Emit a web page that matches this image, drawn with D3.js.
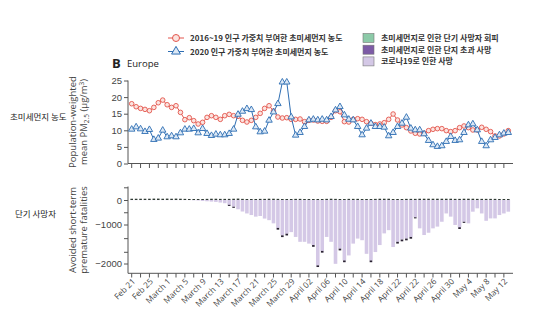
<!DOCTYPE html>
<html><head><meta charset="utf-8">
<script src="https://cdn.jsdelivr.net/npm/d3@7/dist/d3.min.js"></script>
<style>
body{margin:0;background:#fff;}
svg{display:block;font-family:"Open Sans","Noto Sans","Noto Sans CJK KR",sans-serif;}
</style></head><body>
<svg id="c" width="559" height="333"></svg>
<script>
// ---------- data ----------
const tickLabels = ["Feb 21","Feb 25","March 1","March 5","March 9","March 13","March 17","March 21","March 25","March 29","April 02","April 06","April 10","April 14","April 18","April 22","April 22","April 26","April 30","May 4","May 8","May 12"];
const pm2016_19 = [18.0,17.1,16.6,16.3,15.9,16.9,18.3,19.1,17.7,16.9,17.4,15.4,13.2,13.8,12.9,11.9,12.4,13.9,14.4,13.9,13.3,14.4,14.8,14.4,14.2,13.0,12.5,13.0,13.9,15.1,16.6,17.4,15.8,14.0,13.7,13.8,13.3,13.3,13.4,12.6,13.0,
 13.1,12.8,12.7,12.7,13.9,15.9,15.6,12.6,12.5,13.3,13.5,13.3,12.6,12.1,11.7,11.9,12.3,13.3,14.9,13.1,11.6,10.8,9.8,9.1,8.9,9.1,9.9,10.3,10.5,10.5,9.9,9.6,9.9,10.8,11.3,10.8,10.1,10.1,10.9,10.3,9.6,8.3,8.3,8.9,9.9];
const pm2020 = [10.3,11.0,10.4,9.6,10.2,7.2,7.6,10.0,8.0,8.3,8.0,9.2,10.3,10.3,10.5,9.2,10.5,9.0,8.4,8.8,8.6,8.6,9.0,10.3,14.8,15.7,16.5,16.2,11.0,9.5,9.7,13.0,15.5,18.0,24.5,24.5,14.0,8.5,9.3,11.1,13.1,
 13.3,13.1,13.3,13.1,14.1,16.1,17.1,14.6,13.3,13.1,11.1,8.6,10.6,12.1,11.1,11.1,10.9,8.3,9.3,11.1,12.1,13.9,10.6,10.1,10.1,8.9,6.9,5.6,5.1,5.3,6.6,8.1,6.9,7.1,9.3,11.6,11.9,10.1,6.6,5.3,7.1,7.8,8.6,9.1,9.3];
const covidDeaths = [-5,-5,-5,-5,-5,-5,-5,-5,-5,-5,-5,-5,-5,-5,-13,-20,-39,-52,-65,-78,-104,-131,-196,-274,-379,-470,-549,-614,-679,-653,-758,-823,-953,-1087,-1278,-1236,-1195,-1319,-1444,-1444,-1490,
 -1527,-2051,-1677,-1319,-1444,-2009,-1619,-1922,-1793,-1490,-1361,-1403,-1752,-1922,-1706,-1527,-1228,-1145,-1577,-1444,-1386,-1361,-1319,-705,-1099,-1270,-1211,-1099,-1054,-888,-549,-679,-1012,-1070,-888,-953,-477,-340,-549,-849,-751,-751,-614,-549,-477];
const pmAvoided = [50,50,50,50,50,55,55,50,55,50,55,50,45,40,40,40,40,45,50,50,45,45,45,50,55,45,40,40,40,45,45,50,50,45,40,40,40,45,45,40,40,
 40,40,40,45,50,45,40,40,45,45,45,40,40,40,45,50,50,50,40,40,40,45,45,45,50,50,50,50,50,50,50,50,45,45,50,50,50,45,45,45,45,45,40,40,40];
const pmExcess = [0,0,0,0,0,0,0,0,0,0,0,0,0,0,0,0,0,0,0,0,0,0,45,45,0,0,0,0,0,0,0,0,0,45,45,45,0,0,0,0,0,
 45,45,45,0,0,0,45,45,0,0,0,0,0,45,0,0,0,0,0,45,45,45,45,45,0,0,0,0,0,0,0,0,0,45,45,0,0,0,0,0,0,0,0,0,0];
const topTicks = [0,5,10,15,20,25];
const botTicks = [500,0,-500,-1000,-1350,-1700,-2000];
const botLabels = [0,-1000,-2000];

// ---------- layout ----------
const svg = d3.select("#c");
const n = pm2020.length;
const x = d3.scaleLinear().domain([0, n-1]).range([131.7, 508.3]);
const yTop = d3.scaleLinear().domain([0,25]).range([163.5, 80.5]);
const yBot = d3.scaleLinear().domain([-2300,-2000,-1000,0,500]).range([274.5,263.5,224.5,200,187.3]);
const axisColor = "#555", textColor = "#444";
const red = "#e3554c", blue = "#2e6eb3";
const cGreen = "#8ccaa8", cPurple = "#7d5ba6", cCovid = "#d4c8e6";

// ---------- top chart ----------
const gT = svg.append("g");
gT.append("line").attr("x1",128).attr("x2",513).attr("y1",yTop(0)).attr("y2",yTop(0)).attr("stroke",axisColor);
gT.append("line").attr("x1",128).attr("x2",128).attr("y1",yTop(25)).attr("y2",yTop(0)).attr("stroke",axisColor);
const yAxT = d3.axisLeft(yTop).tickValues(topTicks).tickSize(4).tickPadding(2);
gT.append("g").attr("transform","translate(128,0)").call(yAxT)
  .call(g=>g.select(".domain").remove())
  .call(g=>g.selectAll("line").attr("stroke",axisColor))
  .call(g=>g.selectAll("text").attr("fill",textColor).style("font-size","9.5px"));
const idxTicks = d3.range(0, n-1, 2);
gT.selectAll("line.xt").data(idxTicks).join("line")
  .attr("x1",d=>x(d)).attr("x2",d=>x(d)).attr("y1",yTop(0)).attr("y2",yTop(0)+4.5).attr("stroke",axisColor);

const line = d3.line().x((d,i)=>x(i));
gT.append("path").datum(pm2016_19).attr("d", line.y(d=>yTop(d))).attr("fill","none").attr("stroke",red).attr("stroke-width",1);
gT.selectAll("circle.r").data(pm2016_19).join("circle").attr("cx",(d,i)=>x(i)).attr("cy",d=>yTop(d)).attr("r",2.3)
  .attr("fill","#fbe3df").attr("stroke",red).attr("stroke-width",0.9);
gT.append("path").datum(pm2020).attr("d", line.y(d=>yTop(d))).attr("fill","none").attr("stroke",blue).attr("stroke-width",1);
const tri = d3.symbol().type(d3.symbolTriangle).size(18);
gT.selectAll("path.b").data(pm2020).join("path").attr("transform",(d,i)=>`translate(${x(i)},${yTop(d)})`).attr("d",tri)
  .attr("fill","#dce8f5").attr("stroke",blue).attr("stroke-width",0.9);

// ---------- bottom chart ----------
const gB = svg.append("g");
const bw = 3.6;
gB.selectAll("rect.cov").data(covidDeaths).join("rect")
  .attr("x",(d,i)=>x(i)-bw/2).attr("width",bw)
  .attr("y",yBot(0)).attr("height",d=>yBot(d)-yBot(0)).attr("fill",cCovid);
gB.selectAll("rect.av").data(pmAvoided).join("rect")
  .attr("x",(d,i)=>x(i)-1.3).attr("width",2.6)
  .attr("y",d=>yBot(d)).attr("height",d=>yBot(0)-yBot(d)).attr("fill","#2f3a33");
gB.selectAll("rect.ex").data(pmExcess).join("rect")
  .attr("x",(d,i)=>x(i)-1.3).attr("width",2.6)
  .attr("y",(d,i)=>yBot(covidDeaths[i])).attr("height",(d,i)=>d? yBot(covidDeaths[i]-d)-yBot(covidDeaths[i]):0).attr("fill","#2a2233");
gB.append("line").attr("x1",128).attr("x2",128).attr("y1",186.5).attr("y2",273.3).attr("stroke",axisColor);
gB.append("line").attr("x1",128).attr("x2",513).attr("y1",273.3).attr("y2",273.3).attr("stroke",axisColor);
const yAxB = d3.axisLeft(yBot).tickValues(botTicks).tickSize(4).tickPadding(2)
  .tickFormat(d=>botLabels.includes(d)? d3.format("d")(d) : "");
gB.append("g").attr("transform","translate(128,0)").call(yAxB)
  .call(g=>g.select(".domain").remove())
  .call(g=>g.selectAll("line").attr("stroke",axisColor))
  .call(g=>g.selectAll("text").attr("fill",textColor).style("font-size","9.5px"));
gB.selectAll("line.xt").data(idxTicks).join("line")
  .attr("x1",d=>x(d)).attr("x2",d=>x(d)).attr("y1",273.3).attr("y2",277.5).attr("stroke",axisColor);
gB.selectAll("text.xl").data(tickLabels).join("text")
  .attr("transform",(d,i)=>`translate(${x(i*4)+2},280) rotate(-45)`)
  .attr("text-anchor","end").attr("dy","0.35em").attr("fill",textColor).style("font-size","8.2px").text(d=>d);

// ---------- axis titles ----------
svg.append("text").attr("transform","translate(76,122) rotate(-90)").attr("text-anchor","middle").attr("fill",textColor).style("font-size","9.5px").text("Population-weighted");
let t2 = svg.append("text").attr("transform","translate(87,122) rotate(-90)").attr("text-anchor","middle").attr("fill",textColor).style("font-size","9.5px");
t2.append("tspan").text("mean PM");
t2.append("tspan").text("2.5").attr("dy",2).style("font-size","6.5px");
t2.append("tspan").text(" (μg/m").attr("dy",-2);
t2.append("tspan").text("3").attr("dy",-3).style("font-size","6.5px");
t2.append("tspan").text(")").attr("dy",3);
svg.append("text").attr("transform","translate(76,230) rotate(-90)").attr("text-anchor","middle").attr("fill",textColor).style("font-size","9.5px").text("Avoided short-term");
svg.append("text").attr("transform","translate(87,230) rotate(-90)").attr("text-anchor","middle").attr("fill",textColor).style("font-size","9.5px").text("premature fatalities");

// Korean side labels
svg.append("text").attr("x",10).attr("y",120).attr("fill","#222").style("font-size","8.5px").style("font-family","'Noto Sans CJK KR'").text("초미세먼지 농도");
svg.append("text").attr("x",15).attr("y",217).attr("fill","#222").style("font-size","8.5px").style("font-family","'Noto Sans CJK KR'").text("단기 사망자");

// Panel title
svg.append("text").attr("x",112).attr("y",68).attr("fill","#222").style("font-size","13px").style("font-weight","bold").text("B");
svg.append("text").attr("x",127).attr("y",67).attr("fill","#222").style("font-size","9.5px").text("Europe");

// ---------- legends ----------
const legL = [{t:"2016~19 인구 가중치 부여한 초미세먼지 농도", c:red, s:"c", fill:"#fbe3df"},{t:"2020 인구 가중치 부여한 초미세먼지 농도", c:blue, s:"t", fill:"#dce8f5"}];
legL.forEach((d,i)=>{
  const yy = 38 + i*13.5;
  svg.append("line").attr("x1",168).attr("x2",184).attr("y1",yy).attr("y2",yy).attr("stroke",d.c);
  if(d.s==="c") svg.append("circle").attr("cx",176).attr("cy",yy).attr("r",3.5).attr("fill",d.fill).attr("stroke",d.c);
  else svg.append("path").attr("transform",`translate(176,${yy})`).attr("d",d3.symbol().type(d3.symbolTriangle).size(34)).attr("fill",d.fill).attr("stroke",d.c);
  svg.append("text").attr("x",190).attr("y",yy+3).attr("fill","#333").style("font-size","8px").style("font-weight","bold").style("font-family","'Noto Sans CJK KR'").text(d.t);
});
const legR = [{t:"초미세먼지로 인한 단기 사망자 회피", c:cGreen},{t:"초미세먼지로 인한 단지 초과 사망", c:cPurple},{t:"코로나19로 인한 사망", c:cCovid}];
legR.forEach((d,i)=>{
  const yy = 38 + i*11.7;
  svg.append("rect").attr("x",363).attr("y",yy-4.5).attr("width",11).attr("height",9).attr("fill",d.c).attr("stroke","#777").attr("stroke-width",0.6);
  svg.append("text").attr("x",381).attr("y",yy+3).attr("fill","#333").style("font-size","8px").style("font-weight","bold").style("font-family","'Noto Sans CJK KR'").text(d.t);
});
</script></body></html>
